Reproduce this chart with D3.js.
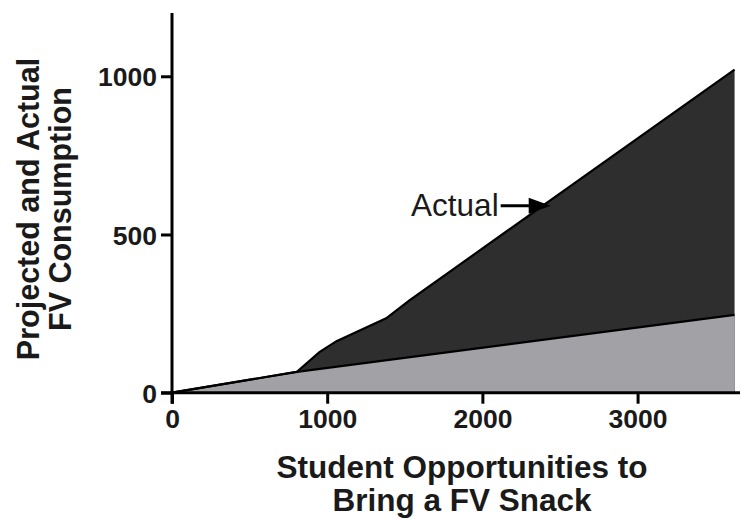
<!DOCTYPE html>
<html>
<head>
<meta charset="utf-8">
<script src="https://cdn.jsdelivr.net/npm/d3@7"></script>
<style>
  html, body { margin: 0; padding: 0; background: #fff; }
  svg { display: block; }
  text { font-family: "Liberation Sans", Arial, sans-serif; fill: #1a1a1a; }
</style>
</head>
<body>
<svg id="chart" width="741" height="519"></svg>
<script>
// Student opportunities (x) and FV consumption (y)
const projectedX = [0, 805, 3625];
const projectedY = [0, 66, 246];
const actualX = [0, 805, 950, 1060, 1150, 1380, 1530, 3625];
const actualY = [0, 66, 128, 163, 183, 235, 292, 1021];
const xTicks = [0, 1000, 2000, 3000];
const yTicks = [0, 500, 1000];
const xTitle = ["Student Opportunities to", "Bring a FV Snack"];
const yTitle = ["Projected and Actual", "FV Consumption"];
const annotation = { label: "Actual", x: 2440, y: 616 };

const projected = projectedX.map((x, i) => ({ x, y: projectedY[i] }));
const actual = actualX.map((x, i) => ({ x, y: actualY[i] }));

const svg = d3.select("#chart");
const x = d3.scaleLinear().domain([0, 3660]).range([172, 740]);
const y = d3.scaleLinear().domain([0, 1200]).range([392.7, 13]);

const area = d3.area().x(d => x(d.x)).y0(y(0)).y1(d => y(d.y));
const line = d3.line().x(d => x(d.x)).y(d => y(d.y));

// Actual (dark) underneath, projected (light) on top
svg.append("path").datum(actual).attr("d", area).attr("fill", "#2e2e2e");
svg.append("path").datum(projected).attr("d", area).attr("fill", "#a2a2a6");
svg.append("path").datum(actual).attr("d", line)
  .attr("fill", "none").attr("stroke", "#000").attr("stroke-width", 2.2);
svg.append("path").datum(projected).attr("d", line)
  .attr("fill", "none").attr("stroke", "#000").attr("stroke-width", 2.2);

// Axes
const xAxis = svg.append("g").attr("transform", `translate(0,${y(0)})`)
  .call(d3.axisBottom(x).tickValues(xTicks).tickSize(11).tickPadding(6).tickFormat(d3.format("d")));
const yAxis = svg.append("g").attr("transform", `translate(${x(0)},0)`)
  .call(d3.axisLeft(y).tickValues(yTicks).tickSize(11).tickPadding(4).tickFormat(d3.format("d")));

[xAxis, yAxis].forEach(g => {
  g.select(".domain").attr("stroke", "#000").attr("stroke-width", 3);
  g.selectAll(".tick line").attr("stroke", "#000").attr("stroke-width", 3);
  g.selectAll(".tick text")
    .attr("fill", "#1a1a1a")
    .style("font-family", '"Liberation Sans", Arial, sans-serif')
    .style("font-size", "26.5px").style("font-weight", "bold");
});
xAxis.select(".domain").attr("d", `M${x(0) - 11},0H${x(3660)}`);
yAxis.select(".domain").attr("d", `M0,${y(1200)}V${y(0) + 11}`);
xAxis.selectAll(".tick text").attr("dy", "0.7em");
yAxis.selectAll(".tick text").attr("dy", "0.36em");

// Axis titles
svg.append("g").selectAll("text").data(xTitle).join("text")
  .attr("x", 462).attr("y", (d, i) => 478 + i * 33)
  .attr("text-anchor", "middle")
  .style("font-size", "31.5px").style("font-weight", "bold")
  .text(d => d);

svg.append("g").attr("transform", "translate(0,209) rotate(-90)")
  .selectAll("text").data(yTitle).join("text")
  .attr("x", 0).attr("y", (d, i) => 39 + i * 32)
  .attr("text-anchor", "middle")
  .style("font-size", "30.5px").style("font-weight", "bold")
  .text(d => d);

// Annotation pointing at the actual series
const tipX = x(annotation.x), tipY = y(annotation.y) + 8;
svg.append("text")
  .attr("x", tipX - 52).attr("y", tipY + 10)
  .attr("text-anchor", "end")
  .style("font-size", "31.5px")
  .attr("fill", "#333")
  .text(annotation.label);
svg.append("line")
  .attr("x1", tipX - 50).attr("x2", tipX - 18)
  .attr("y1", tipY).attr("y2", tipY)
  .attr("stroke", "#000").attr("stroke-width", 3);
svg.append("path")
  .attr("d", `M${tipX},${tipY}L${tipX - 22},${tipY - 8}L${tipX - 22},${tipY + 8}Z`)
  .attr("fill", "#000");
</script>
</body>
</html>
